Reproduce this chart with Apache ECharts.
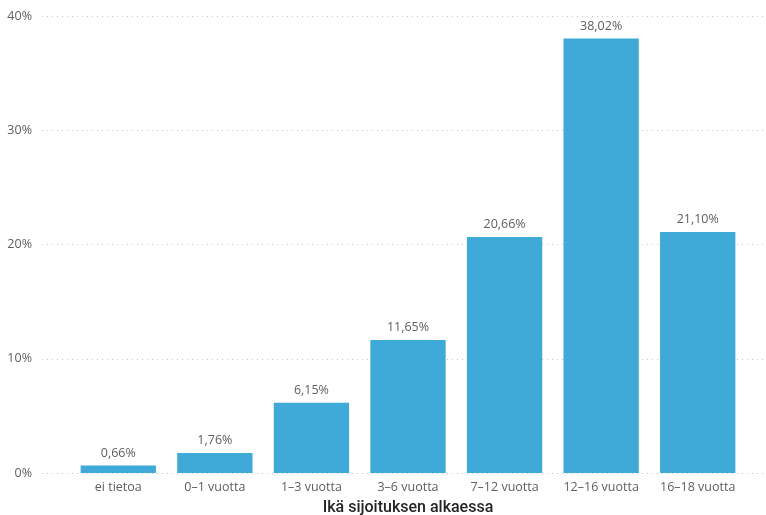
<!DOCTYPE html>
<html><head><meta charset="utf-8">
<script src="https://cdn.jsdelivr.net/npm/echarts@6/dist/echarts.min.js"></script>
<style>html,body{margin:0;padding:0;background:#fff}#c{width:766px;height:515px}</style>
</head><body><div id="c"></div>
<script>
const categories = ["ei tietoa","0–1 vuotta","1–3 vuotta","3–6 vuotta","7–12 vuotta","12–16 vuotta","16–18 vuotta"];
const values = [0.66, 1.76, 6.15, 11.65, 20.66, 38.02, 21.10];
const yTicks = [0, 10, 20, 30, 40];
const axisTitle = "Ikä sijoituksen alkaessa";

const chart = echarts.init(document.getElementById('c'));
const font = "'Open Sans', 'Noto Sans', sans-serif";
chart.setOption({
  animation: false,
  grid: [
    {left: 42, right: 0, top: 16, bottom: 42, outerBoundsMode: 'none', containLabel: false},
    {left: 70, right: 20, top: 16, bottom: 42, outerBoundsMode: 'none', containLabel: false}
  ],
  xAxis: [
    {gridIndex: 0, type: 'category', data: categories, show: false},
    {gridIndex: 1, type: 'category', data: categories,
     axisLine: {show: false}, axisTick: {show: false},
     axisLabel: {color: '#605E5C', fontSize: 12.5, fontFamily: font, margin: 8, interval: 0},
     name: axisTitle, nameLocation: 'middle', nameGap: 27,
     nameTextStyle: {color: '#252423', fontSize: 16, fontWeight: 500, fontFamily: "Roboto, 'DejaVu Sans Condensed', sans-serif"}}
  ],
  yAxis: [
    {gridIndex: 0, type: 'value', min: yTicks[0], max: yTicks[yTicks.length-1], interval: 10,
     axisLine: {show: false}, axisTick: {show: false},
     axisLabel: {color: '#605E5C', fontSize: 12.5, fontFamily: font, margin: 10, formatter: v => v + '%'},
     splitLine: {lineStyle: {color: '#C8C8C8', type: [1, 4], width: 1}}},
    {gridIndex: 1, type: 'value', min: yTicks[0], max: yTicks[yTicks.length-1], interval: 10, show: false}
  ],
  series: [{
    type: 'bar', xAxisIndex: 1, yAxisIndex: 1, data: values,
    barCategoryGap: '22%',
    itemStyle: {color: '#3FA9D7'},
    label: {show: true, position: 'top', distance: 6, color: '#605E5C', fontSize: 12.5, fontFamily: font,
      formatter: p => p.value.toFixed(2).replace('.', ',') + '%'}
  }]
});
</script></body></html>
